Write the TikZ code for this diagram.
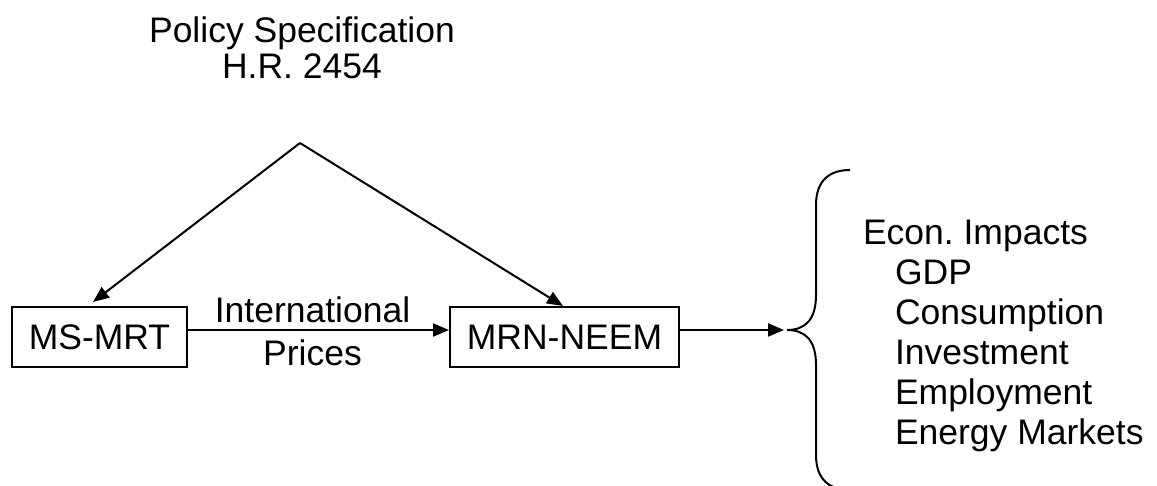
\documentclass[tikz,border=0pt]{standalone}
\usepackage{fontspec}
\setmainfont{Liberation Sans}
\usetikzlibrary{arrows.meta}
\frenchspacing
\begin{document}
\begin{tikzpicture}[x=1pt,y=-1pt,
  line width=2pt,
  every node/.style={font=\fontsize{35.5}{40}\selectfont, inner sep=0pt},
  model/.style={draw, line width=2pt, minimum height=60pt},
  arr/.style={-{Triangle[length=16pt,width=13pt]}, line width=2pt},
  txt/.style={align=center}]
\useasboundingbox (0,0) rectangle (1157,486);
\node[txt, anchor=north] (policy) at (302,16) {Policy Specification\\[-4pt]H.R. 2454};
\coordinate (apex) at (300,143);
\node[model, minimum width=175pt] (ms) at (99.5,337) {MS-MRT};
\node[model, minimum width=229pt] (mrn) at (564.5,337) {MRN-NEEM};
\coordinate (brace) at (787,330);
\draw[arr] (apex) -- ([xshift=-6.5pt,yshift=4pt]ms.north);
\draw[arr] (apex) -- ([xshift=-1.5pt]mrn.north);
\draw[arr] ([yshift=7pt]ms.east) -- node[txt, xshift=-6pt, yshift=-1pt] (ip) {International\\[3pt]Prices} ([yshift=7pt]mrn.west);
\draw[arr, shorten >=3pt] ([yshift=7pt]mrn.east) -- (brace);
\draw (850,170) .. controls (830,170) and (816,180) .. (816,205) -- (816,295)
  .. controls (816,320) and (805,330) .. (brace)
  .. controls (805,330) and (816,340) .. (816,365) -- (816,455)
  .. controls (816,480) and (830,490) .. (850,490);
\node[anchor=north west, align=left] (econ) at (862,219) {Econ. Impacts\\
\hspace*{32pt}GDP\\
\hspace*{32pt}Consumption\\
\hspace*{32pt}Investment\\
\hspace*{32pt}Employment\\
\hspace*{32pt}Energy Markets};
\end{tikzpicture}
\end{document}
